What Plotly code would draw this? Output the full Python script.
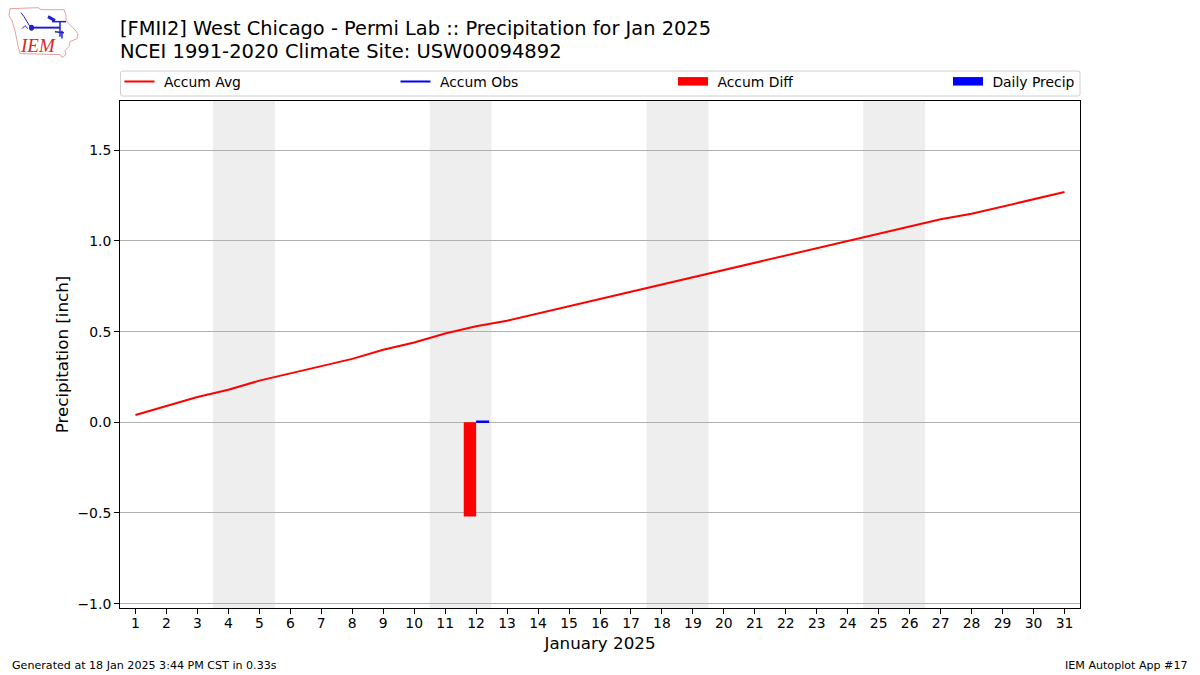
import plotly.graph_objects as go

days = list(range(1, 32))
accum_avg = [0.04, 0.09, 0.14, 0.18, 0.23, 0.27, 0.31, 0.35, 0.40, 0.44, 0.49, 0.53, 0.56, 0.60, 0.64, 0.68,
             0.72, 0.76, 0.80, 0.84, 0.88, 0.92, 0.96, 1.00, 1.04, 1.08, 1.12, 1.15, 1.19, 1.23, 1.27]
obs_days = [12]
accum_obs = [0.01]
diff_days = [12]
accum_diff = [-0.52]
precip_days = [12]
daily_precip = [0.01]
weekends = [(3.5, 5.5), (10.5, 12.5), (17.5, 19.5), (24.5, 26.5)]
y_ticks = [-1.0, -0.5, 0.0, 0.5, 1.0, 1.5]
y_tick_labels = ["\u22121.0", "\u22120.5", "0.0", "0.5", "1.0", "1.5"]

FONT = "DejaVu Sans"
L, R, T, B = 120, 1080, 100.5, 608.5
W, H = 1200, 675


def px(x):
    return (x - L) / (R - L)


def py(y):
    return (B - y) / (B - T)


NB = "\u00a0"
fig = go.Figure()
fig.add_trace(go.Bar(x=diff_days, y=accum_diff, width=0.4, offset=-0.4, marker=dict(color="#ff0000", line_width=0),
                     showlegend=False, name="Accum Diff"))
fig.add_trace(go.Bar(x=precip_days, y=daily_precip, width=0.42, offset=0, marker=dict(color="#0000ff", line_width=0),
                     showlegend=False, name="Daily Precip"))
fig.add_trace(go.Scatter(x=days, y=accum_avg, mode="lines", name=NB + "Accum Avg", legend="legend",
                         line=dict(color="#ff0000", width=2)))
fig.add_trace(go.Scatter(x=obs_days, y=accum_obs, mode="lines", name=NB + "Accum Obs", legend="legend2",
                         line=dict(color="#0000ff", width=2)))
fig.add_trace(go.Scatter(x=[None], y=[None], mode="lines", fill="toself", name=NB + "Accum Diff", legend="legend3",
                         line=dict(color="#ff0000", width=5), fillcolor="#ff0000"))
fig.add_trace(go.Scatter(x=[None], y=[None], mode="lines", fill="toself", name=NB + "Daily Precip", legend="legend4",
                         line=dict(color="#0000ff", width=5), fillcolor="#0000ff"))

shapes = [dict(type="rect", xref="x", yref="paper", x0=a, x1=b, y0=0, y1=1, layer="below",
               fillcolor="#eeeeee", line_width=0) for a, b in weekends]


def pts(points, close=False):
    s = "M" + " L".join(f"{px(x):.5f},{py(y):.5f}" for x, y in points)
    return s + (" Z" if close else "")


# rounded legend frame
x0, x1, y0, y1, r = 120.5, 1080, 70.5, 95.5, 2
frame = (f"M{px(x0 + r):.5f},{py(y0):.5f} L{px(x1 - r):.5f},{py(y0):.5f} Q{px(x1):.5f},{py(y0):.5f} {px(x1):.5f},{py(y0 + r):.5f} "
         f"L{px(x1):.5f},{py(y1 - r):.5f} Q{px(x1):.5f},{py(y1):.5f} {px(x1 - r):.5f},{py(y1):.5f} "
         f"L{px(x0 + r):.5f},{py(y1):.5f} Q{px(x0):.5f},{py(y1):.5f} {px(x0):.5f},{py(y1 - r):.5f} "
         f"L{px(x0):.5f},{py(y0 + r):.5f} Q{px(x0):.5f},{py(y0):.5f} {px(x0 + r):.5f},{py(y0):.5f} Z")
shapes.append(dict(type="path", xref="paper", yref="paper", path=frame, line=dict(color="#d0d0d0", width=1)))

iowa = [(10, 8), (38, 7), (41, 9), (64, 9), (66, 15), (66, 20), (73, 27), (78, 33), (77, 38), (70, 41), (69, 46),
        (65, 50), (66, 54), (62, 57), (60, 54), (20, 53), (18, 45), (15, 30), (12, 20), (9, 15)]
shapes.append(dict(type="path", xref="paper", yref="paper", path=pts(iowa, True), line=dict(color="#e8a0a0", width=1)))
blue = [([(31, 27), (60, 27)], 2), ([(21, 12), (24, 16), (30, 26)], 1), ([(48, 16), (55, 20)], 3),
        ([(52, 21), (66, 21)], 1.5), ([(60, 21), (60, 36)], 1.5), ([(55, 31), (64, 32)], 1.5), ([(62, 30), (62, 38)], 1.5),
        ([(22, 28), (25, 25), (28, 28)], 1)]
for seg, w in blue:
    shapes.append(dict(type="path", xref="paper", yref="paper", path=pts(seg), line=dict(color="#2222cc", width=w)))
shapes.append(dict(type="circle", xref="paper", yref="paper", x0=px(29), x1=px(34), y0=py(30), y1=py(24),
                   fillcolor="#2222cc", line_width=0))

notes = [
    dict(text="NCEI 1991-2020 Climate Site: USW00094892", x=px(118), y=py(51), xanchor="left", yanchor="middle",
         font=dict(size=19.5, color="black")),
    dict(text="Generated at 18 Jan 2025 3:44 PM CST in 0.33s", x=px(10), y=py(666.5), xanchor="left", yanchor="middle",
         font=dict(size=11.1, color="black")),
    dict(text="IEM Autoplot App #17", x=px(1190), y=py(666.5), xanchor="right", yanchor="middle",
         font=dict(size=11.1, color="black")),
    dict(text="<i>IEM</i>", x=px(37.5), y=py(45), xanchor="center", yanchor="middle",
         font=dict(size=19, color="#d62728", family="Liberation Serif")),
]
for n in notes:
    n.update(xref="paper", yref="paper", showarrow=False)


def leg(xpix):
    return dict(orientation="h", x=px(xpix - 5), xanchor="left", y=py(81.5), yanchor="middle",
                bgcolor="rgba(0,0,0,0)", borderwidth=0, itemwidth=30, font=dict(size=13.9), itemclick=False)


fig.update_layout(
    width=W, height=H, autosize=False,
    margin=dict(l=L, r=W - R, t=T, b=H - B, pad=0),
    paper_bgcolor="white", plot_bgcolor="white",
    font=dict(family=FONT, size=13.9, color="black"),
    title=dict(text="[FMII2] West Chicago - Permi Lab :: Precipitation for Jan 2025", x=120 / W, xanchor="left",
               xref="container", y=1 - 28.5 / H, yanchor="middle", font=dict(size=19.4, family=FONT, color="black")),
    barmode="overlay",
    shapes=shapes, annotations=notes,
    legend=leg(124.5), legend2=leg(400.5), legend3=leg(678), legend4=leg(953),
    xaxis=dict(range=[0.5, 31.5], tickmode="array", tickvals=days, ticktext=[str(d) for d in days],
               ticks="outside", ticklen=5, tickwidth=1, tickcolor="black", showgrid=False, zeroline=False,
               showline=True, linecolor="black", linewidth=1, mirror=True, tickangle=0, ticklabelstandoff=-3,
               title=dict(text="January 2025", font=dict(size=16.7), standoff=7)),
    yaxis=dict(range=[-1.024, 1.772], tickmode="array", tickvals=y_ticks, ticktext=y_tick_labels,
               ticks="outside", ticklen=5, tickwidth=1, tickcolor="black", showgrid=True, gridcolor="#b0b0b0",
               gridwidth=1, zeroline=False, showline=True, linecolor="black", linewidth=1, mirror=True,
               title=dict(text="Precipitation [inch]", font=dict(size=16.7), standoff=4)),
)
fig.write_html("out.html", config={"displayModeBar": False},
               post_script="document.body.style.margin='0';document.body.style.overflow='hidden';")
